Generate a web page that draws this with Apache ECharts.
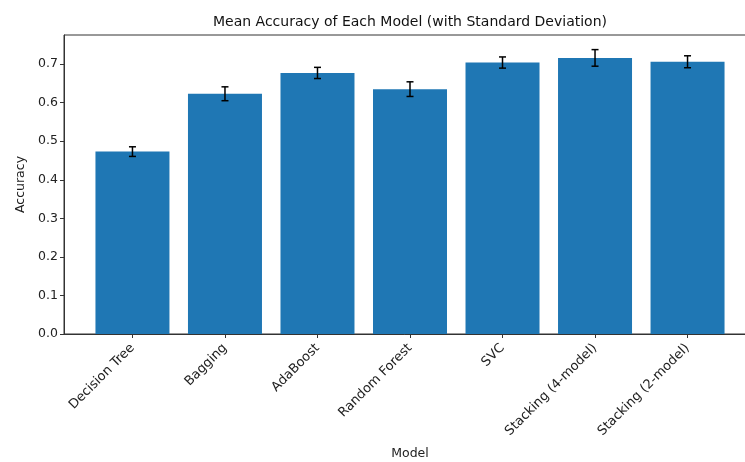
<!DOCTYPE html>
<html>
<head>
<meta charset="utf-8">
<script src="https://cdn.jsdelivr.net/npm/echarts@6/dist/echarts.min.js"></script>
<style>
  html, body { margin: 0; padding: 0; background: #fff; }
  #chart { width: 745px; height: 462px; }
</style>
</head>
<body>
<div id="chart"></div>
<script>
const models = ['Decision Tree', 'Bagging', 'AdaBoost', 'Random Forest', 'SVC', 'Stacking (4-model)', 'Stacking (2-model)']
const meanAcc = [0.473, 0.623, 0.677, 0.635, 0.704, 0.716, 0.706]
const stdAcc = [0.0125, 0.018, 0.0145, 0.019, 0.0145, 0.0215, 0.0155]
const yTicks = [0, 0.1, 0.2, 0.3, 0.4, 0.5, 0.6, 0.7]

const font = 'DejaVu Sans'
const barData = meanAcc.map((v, i) => [i, v])
const errData = meanAcc.map((v, i) => [i, v - stdAcc[i], v + stdAcc[i]])
const xIdx = models.map((m, i) => i)

const myChart = echarts.init(document.getElementById('chart'))
const option = {
  animation: false,
  title: {
    text: 'Mean Accuracy of Each Model (with Standard Deviation)',
    left: 405,
    textAlign: 'center',
    top: 10,
    textStyle: { fontFamily: font, fontSize: 14, fontWeight: 'normal', color: '#111' }
  },
  grid: {
    left: 64, right: -11, top: 35, bottom: 128,
    outerBoundsMode: 'none',
    containLabel: false,
    show: true, borderColor: '#333', borderWidth: 1, backgroundColor: 'transparent'
  },
  xAxis: {
    type: 'value',
    min: -0.74,
    max: 6.74,
    name: 'Model',
    nameLocation: 'middle',
    nameGap: 113,
    nameTextStyle: { fontFamily: font, fontSize: 12.5, color: '#222' },
    splitLine: { show: false },
    axisLine: { show: true, onZero: false, lineStyle: { color: '#333' } },
    axisTick: { show: true, length: 4, customValues: xIdx, lineStyle: { color: '#333' } },
    axisLabel: {
      customValues: xIdx,
      rotate: 45,
      margin: 12,
      fontFamily: font,
      fontSize: 13,
      color: '#222',
      formatter: v => models[Math.round(v)]
    }
  },
  yAxis: {
    type: 'value',
    min: 0,
    max: 0.7754,
    name: 'Accuracy',
    nameLocation: 'middle',
    nameGap: 37,
    nameTextStyle: { fontFamily: font, fontSize: 12.5, color: '#222' },
    splitLine: { show: false },
    axisLine: { show: true, onZero: false, lineStyle: { color: '#333' } },
    axisTick: { show: true, length: 4, customValues: yTicks, lineStyle: { color: '#333' } },
    axisLabel: {
      customValues: yTicks,
      margin: 6,
      fontFamily: font,
      fontSize: 12.5,
      color: '#222',
      formatter: v => v.toFixed(1)
    }
  },
  series: [
    {
      type: 'bar',
      data: barData,
      barWidth: 74,
      itemStyle: { color: '#1f77b4' }
    },
    {
      type: 'custom',
      data: errData,
      z: 10,
      renderItem: function (params, api) {
        const x = api.value(0)
        const lo = api.coord([x, api.value(1)])
        const hi = api.coord([x, api.value(2)])
        const cap = 3.5
        const style = { stroke: '#000', lineWidth: 1.5 }
        return {
          type: 'group',
          children: [
            { type: 'line', shape: { x1: lo[0], y1: lo[1], x2: hi[0], y2: hi[1] }, style: style },
            { type: 'line', shape: { x1: lo[0] - cap, y1: lo[1], x2: lo[0] + cap, y2: lo[1] }, style: style },
            { type: 'line', shape: { x1: hi[0] - cap, y1: hi[1], x2: hi[0] + cap, y2: hi[1] }, style: style }
          ]
        }
      }
    }
  ]
}
myChart.setOption(option)
</script>
</body>
</html>
